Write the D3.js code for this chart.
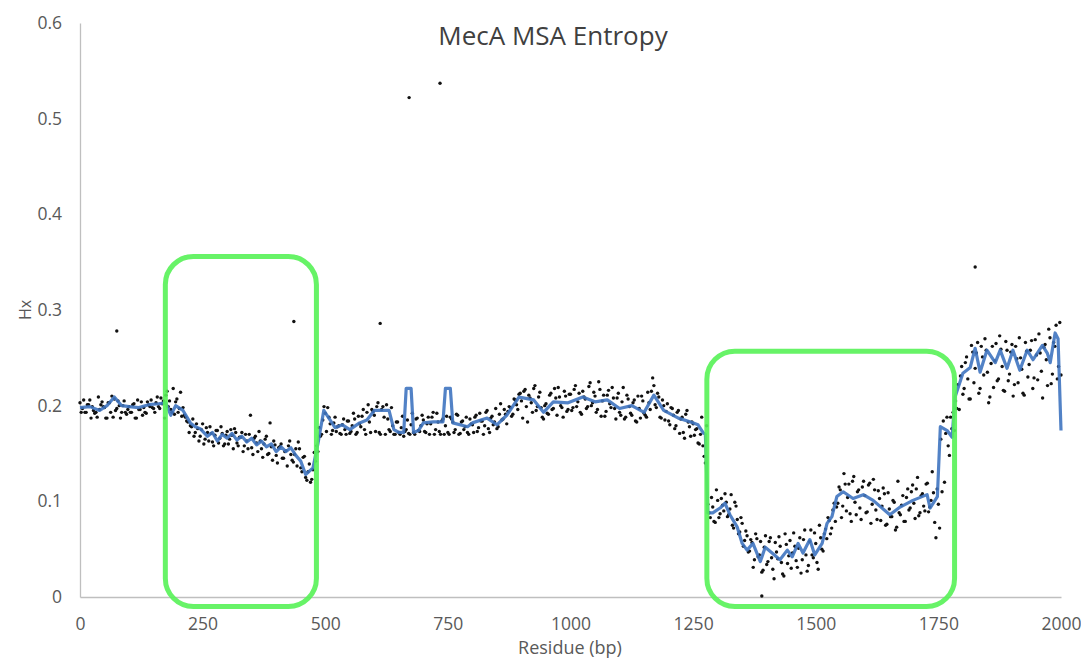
<!DOCTYPE html>
<html>
<head>
<meta charset="utf-8">
<script src="https://cdn.jsdelivr.net/npm/d3@7"></script>
<style>
  body { margin: 0; background: #fff; }
  svg { display: block; }
</style>
</head>
<body>
<div id="chart"></div>
<script>
// moving average trendline (residue, Hx)
var lineX = [0,20,40,55,70,85,100,120,140,160,175,185,195,210,225,235,245,260,270,280,290,300,310,320,330,340,350,360,370,380,390,400,410,420,430,440,450,460,475,485,497,510,520,535,550,570,585,600,630,640,650,660,665,675,680,690,700,720,740,745,755,760,790,800,830,850,870,895,925,945,965,995,1025,1050,1075,1100,1125,1150,1170,1190,1220,1245,1260,1270,1275,1280,1290,1305,1315,1325,1340,1350,1360,1372,1387,1397,1411,1427,1442,1452,1464,1474,1488,1498,1513,1523,1533,1543,1556,1576,1597,1617,1651,1672,1698,1727,1733,1748,1754,1768,1778,1784,1800,1815,1825,1835,1849,1866,1876,1890,1902,1916,1931,1943,1962,1972,1978,1988,1994,2000];
var lineY = [.198,.199,.195,.200,.209,.200,.199,.198,.201,.202,.203,.190,.200,.195,.182,.178,.176,.168,.172,.163,.170,.166,.171,.164,.168,.162,.166,.159,.163,.157,.160,.152,.157,.152,.156,.148,.142,.128,.135,.160,.195,.185,.177,.180,.175,.182,.185,.195,.195,.175,.172,.172,.218,.218,.172,.174,.182,.183,.183,.218,.218,.182,.178,.182,.187,.180,.190,.209,.206,.193,.204,.203,.209,.204,.206,.197,.200,.193,.211,.195,.187,.183,.180,.172,.170,.088,.088,.093,.098,.086,.073,.056,.049,.056,.037,.052,.046,.039,.049,.042,.056,.046,.060,.044,.056,.077,.084,.105,.110,.103,.107,.101,.086,.094,.101,.107,.093,.105,.178,.174,.167,.209,.234,.240,.260,.235,.258,.245,.258,.239,.258,.237,.258,.248,.263,.255,.245,.276,.270,.174];

// per-residue entropy, every 5 bp starting at 0
var dotsA = [
  .203,.197,.193,.201,.206,.199,.192,.188,.196,.204,.198,.187,.203,.210,.207,.197,.200,.193,.205,.191,
  .199,.193,.202,.187,.196,.204,.198,.192,.201,.206,.197,.203,.199,.208,.205,.211,.199,.196,.218,.204,
  .193,.214,.198,.188,.183,.179,.186,.172,.176,.168,.181,.165,.172,.178,.162,.169,.174,.166,.171,.160,
  .173,.165,.169,.176,.161,.167,.172,.158,.163,.170,.156,.166,.161,.173,.155,.160,.168,.150,.157,.163,
  .148,.156,.160,.145,.153,.158,.149,.141,.155,.162,.135,.146,.125,.131,.120,.133,.142,.152,.168,.185,
  .192,.198,.181,.174,.188,.178,.171,.180,.175,.184,.171,.179,.186,.172,.181,.189,.175,.193,.183,.196,
  .190,.199,.172,.196,.188,.201,.175,.198,.170,.183,.172,.177,.168,.175,.171,.180,.172,.186,.174,.179,
  .185,.172,.188,.181,.193,.175,.183,.170,.186,.179,.172,.188,.183,.175,.190,.171,.184,.178,.172,.186,
  .180,.188,.173,.192,.184,.179,.195,.172,.189,.183,.176,.191,.185,.196,.181,.199,.189,.207,.201,.212,
  .205,.215,.199,.211,.203,.218,.195,.209,.198,.186,.202,.191,.213,.197,.208,.219,.200,.188,.210,.196,
  .212,.198,.221,.204,.193,.215,.207,.199,.224,.203,.210,.196,.217,.205,.189,.211,.202,.219,.197,.208,
  .193,.204,.186,.211,.199,.190,.206,.183,.197,.210,.192,.188,.203,.215,.221,.198,.209,.187,.200,.194,
  .184,.198,.190,.179,.195,.186,.172,.191,.183,.168,.181,.175,.161,.170,.158,.140,.097,.083,.094,.078,
  .101,.087,.096,.108,.084,.092,.075,.099,.081,.068,.077,.059,.064,.048,.057,.039,.061,.044,.026,.052,
  .034,.058,.041,.019,.047,.063,.036,.022,.055,.043,.030,.067,.038,.051,.025,.060,.044,.033,.070,.041,
  .056,.029,.062,.048,.071,.083,.066,.091,.079,.098,.112,.095,.118,.104,.087,.121,.099,.110,.093,.115,
  .106,.089,.119,.097,.112,.081,.103,.095,.108,.076,.092,.084,.099,.073,.088,.096,.079,.104,.091,.110,
  .098,.113,.085,.106,.095,.118,.089,.101,.109,.062,.097,.165,.184,.171,.158,.188,.193,.205,.222,.231,
  .212,.245,.228,.207,.256,.239,.266,.218,.251,.270,.235,.209,.262,.247,.226,.273,.241,.215,.258,.233,
  .264,.222,.249,.271,.238,.211,.257,.243,.268,.229,.253,.275,.236,.261,.248,.280,.223,.266,.284,.241,
  .232
];

// per-residue entropy, every 10 bp starting at 2.5
var dotsB = [
  .193,.193,.187,.193,.201,.187,.193,.195,.187,.193,.193,.187,.196,.193,.199,.193,.197,.187,.205,.191,
  .197,.190,.172,.168,.163,.160,.163,.158,.161,.158,.160,.155,.158,.152,.155,.149,.152,.146,.149,.143,
  .140,.145,.137,.143,.137,.131,.122,.123,.158,.170,.173,.170,.173,.170,.170,.173,.170,.178,.170,.172,
  .173,.170,.170,.173,.170,.170,.173,.170,.170,.173,.173,.170,.170,.173,.170,.170,.172,.170,.175,.170,
  .172,.177,.170,.176,.180,.178,.186,.194,.191,.196,.187,.183,.193,.199,.188,.192,.196,.190,.198,.194,
  .195,.199,.191,.197,.200,.193,.189,.194,.198,.186,.190,.188,.192,.184,.187,.190,.196,.201,.188,.185,
  .180,.176,.171,.166,.178,.169,.160,.147,.088,.079,.083,.090,.086,.072,.066,.053,.047,.031,.042,.028,
  .037,.029,.040,.024,.035,.046,.031,.039,.027,.044,.036,.050,.061,.072,.094,.083,.090,.079,.086,.081,
  .088,.077,.091,.080,.075,.084,.070,.086,.079,.093,.082,.088,.090,.094,.078,.072,.120,.148,.174,.196,
  .218,.207,.224,.213,.232,.203,.219,.228,.216,.226,.210,.224,.213,.230,.218,.227,.208,.221,.233,.228
];

// per-residue entropy, every 10 bp starting at 7.5
var dotsC = [
  .206,.201,.195,.209,.199,.203,.188,.205,.200,.196,.201,.206,.190,.204,.198,.209,.202,.215,.193,.207,
  .189,.184,.178,.181,.175,.177,.171,.174,.178,.169,.175,.172,.167,.170,.190,.168,.163,.165,.182,.159,
  .157,.152,.163,.149,.155,.147,.139,.151,.177,.199,.188,.182,.179,.186,.184,.192,.189,.196,.201,.194,
  .203,.199,.186,.179,.183,.189,.185,.192,.187,.190,.181,.188,.192,.184,.189,.186,.191,.183,.188,.181,
  .190,.184,.193,.187,.197,.202,.191,.198,.206,.213,.217,.208,.221,.214,.200,.211,.218,.209,.215,.212,
  .217,.213,.209,.220,.214,.225,.211,.216,.208,.213,.219,.207,.203,.210,.205,.214,.229,.213,.206,.202,
  .197,.193,.188,.195,.183,.176,.188,.179,.104,.112,.103,.099,.107,.095,.083,.069,.060,.066,.058,.064,
  .062,.057,.053,.066,.059,.053,.062,.070,.058,.067,.075,.066,.080,.098,.115,.129,.118,.126,.112,.121,
  .117,.123,.111,.114,.109,.101,.121,.106,.113,.117,.125,.108,.119,.131,.113,.110,.188,.176,.197,.241,
  .251,.263,.255,.262,.258,.244,.265,.259,.267,.256,.262,.250,.266,.258,.269,.255,.264,.271,.262,.287
];

// isolated high-entropy residues
var outlierX = [75, 436, 612, 671, 734, 1390, 1825];
var outlierY = [.278, .288, .286, .522, .537, .001, .345];

// highlighted regions (residue start/end, Hx bottom/top)
var boxX0 = [174, 1278];
var boxX1 = [482, 1783];
var boxY0 = [-0.0099, -0.0099];
var boxY1 = [0.356, 0.257];

var xTicks = [0, 250, 500, 750, 1000, 1250, 1500, 1750, 2000];
var yTicks = [0, 0.1, 0.2, 0.3, 0.4, 0.5, 0.6];

var width = 1081, height = 659;

var svg = d3.select("#chart").append("svg")
    .attr("width", width)
    .attr("height", height);

var x = d3.scaleLinear().domain([0, 2000]).range([80, 1061]);
var y = d3.scaleLinear().domain([0, 0.6]).range([597, 23]);

var font = "'Open Sans', sans-serif";

// axes
var xAxis = svg.append("g")
    .attr("transform", "translate(0," + y(0) + ")")
    .call(d3.axisBottom(x).tickValues(xTicks).tickSize(0).tickPadding(21).tickFormat(d3.format("d")));
var yAxis = svg.append("g")
    .attr("transform", "translate(" + x(0) + ",0)")
    .call(d3.axisLeft(y).tickValues(yTicks).tickSize(0).tickPadding(18)
        .tickFormat(function (d) { return d === 0 ? "0" : d3.format(".1f")(d); }));

[xAxis, yAxis].forEach(function (a) {
    a.select(".domain").attr("stroke", "#bfbfbf").attr("stroke-width", 1.3);
    a.selectAll("text")
        .style("font-family", font)
        .style("font-size", "17.5px")
        .attr("fill", "#595959");
});

// points
var pts = [];
dotsA.forEach(function (v, i) { pts.push([i * 5, v]); });
dotsB.forEach(function (v, i) { pts.push([2.5 + i * 10, v]); });
dotsC.forEach(function (v, i) { pts.push([7.5 + i * 10, v]); });
outlierX.forEach(function (v, i) { pts.push([v, outlierY[i]]); });

svg.append("g").selectAll("circle")
    .data(pts)
    .enter()
    .append("circle")
    .attr("cx", function (d) { return x(d[0]); })
    .attr("cy", function (d) { return y(d[1]); })
    .attr("r", 1.7)
    .attr("fill", "#111");

// trendline
var line = d3.line()
    .x(function (d, i) { return x(lineX[i]); })
    .y(function (d) { return y(d); });

svg.append("path")
    .datum(lineY)
    .attr("d", line)
    .attr("fill", "none")
    .attr("stroke", "#3f74c0")
    .attr("stroke-width", 3.2)
    .attr("stroke-linejoin", "round")
    .attr("opacity", 0.9);

// highlight boxes
svg.append("g").selectAll("rect")
    .data(boxX0)
    .enter()
    .append("rect")
    .attr("x", function (d) { return x(d); })
    .attr("y", function (d, i) { return y(boxY1[i]); })
    .attr("width", function (d, i) { return x(boxX1[i]) - x(d); })
    .attr("height", function (d, i) { return y(boxY0[i]) - y(boxY1[i]); })
    .attr("rx", 28)
    .attr("fill", "none")
    .attr("stroke", "#57f257")
    .attr("stroke-width", 5)
    .attr("opacity", 0.9);

// titles
svg.append("text")
    .attr("x", 553)
    .attr("y", 45)
    .attr("text-anchor", "middle")
    .style("font-family", font)
    .style("font-size", "26px")
    .attr("fill", "#404040")
    .text("MecA MSA Entropy");

svg.append("text")
    .attr("x", 570)
    .attr("y", 654)
    .attr("text-anchor", "middle")
    .style("font-family", font)
    .style("font-size", "18px")
    .attr("fill", "#595959")
    .text("Residue (bp)");

svg.append("text")
    .attr("transform", "translate(31,310) rotate(-90)")
    .attr("text-anchor", "middle")
    .style("font-family", font)
    .style("font-size", "16px")
    .attr("fill", "#595959")
    .text("Hx");
</script>
</body>
</html>
